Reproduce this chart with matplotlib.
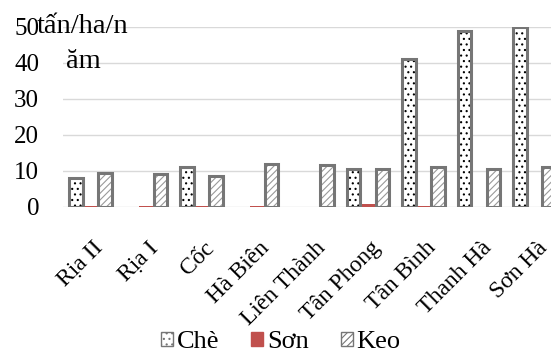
import numpy as np
import matplotlib
matplotlib.use("Agg")
import matplotlib.pyplot as plt
import matplotlib.transforms as mtransforms
from matplotlib.patches import Patch

plt.rcParams['font.family'] = ['Liberation Serif', 'DejaVu Serif']
plt.rcParams['hatch.linewidth'] = 0.8

# năng suất theo xã (tấn/ha/năm)
xa = ['Rịa II', 'Rịa I', 'Cốc', 'Hà Biên', 'Liên Thành',
      'Tân Phong', 'Tân Bình', 'Thanh Hà', 'Sơn Hà']
che = [8.0, 0, 11.2, 0, 0, 10.5, 41.0, 48.9, 49.8]
son = [0.3, 0.3, 0.3, 0.3, 0, 0.7, 0.3, 0, 0]
keo = [9.5, 9.1, 8.7, 11.9, 11.6, 10.5, 11.2, 10.4, 11.2]

fig = plt.figure(figsize=(5.51, 3.52), dpi=100)
ax = fig.add_axes([62.75 / 551, 0.412, 499.5 / 551, 0.512])

x = np.arange(len(xa))
w = 0.26
edge = '#767676'

# Chè: nền chấm, viền xám
ax.bar(x - w, che, w * 0.92, color='white', hatch='...', edgecolor='black', lw=0, zorder=2)
ax.bar([i - w for i, v in zip(x, che) if v > 0], [v for v in che if v > 0], w * 0.92,
       fill=False, edgecolor=edge, lw=2.2, zorder=3)
# Sơn
ax.bar(x, son, w * 0.92, color='#c0504d', zorder=2)
# Keo: gạch chéo
ax.bar(x + w, keo, w * 0.92, color='white', hatch='/////', edgecolor='#9a9a9a', lw=0, zorder=2)
ax.bar(x + w, keo, w * 0.92, fill=False, edgecolor=edge, lw=2.2, zorder=3)

ax.set_xlim(-0.5, len(xa) - 0.5)
ax.set_ylim(0, 50)
ax.set_yticks(range(0, 51, 10))
ax.yaxis.grid(True, color='#d9d9d9', lw=1)
ax.set_axisbelow(True)
for s in ax.spines.values():
    s.set_visible(False)
ax.tick_params(axis='y', length=0, labelsize=18, pad=17)
ax.tick_params(axis='x', length=0, pad=22, labelsize=17)
ax.set_xticks(x)
ax.set_xticklabels(xa, rotation=45, ha='right', rotation_mode='anchor')
# dịch nhãn trục x sang phải một chút
shift = mtransforms.ScaledTranslation(0.02, 0, fig.dpi_scale_trans)
for lb in ax.get_xticklabels():
    lb.set_transform(lb.get_transform() + shift)

fig.text(37 / 551, 1 - 33 / 352, 'tấn/ha/n', fontsize=20.5, va='baseline', ha='left')
fig.text(66 / 551, 1 - 68 / 352, 'ăm', fontsize=20.5, va='baseline', ha='left')

handles = [Patch(facecolor='white', edgecolor=edge, hatch='...', lw=1),
           Patch(facecolor='#c0504d', edgecolor='#c0504d'),
           Patch(facecolor='white', edgecolor=edge, hatch='/////', lw=1)]
fig.legend(handles, ['Chè', 'Sơn', 'Keo'], loc='center', bbox_to_anchor=(0.51, 0.028),
           ncol=3, frameon=False, fontsize=19, handlelength=0.45, handleheight=0.45,
           handletextpad=0.15, columnspacing=1.2)

fig.savefig('out.png', dpi=100)
